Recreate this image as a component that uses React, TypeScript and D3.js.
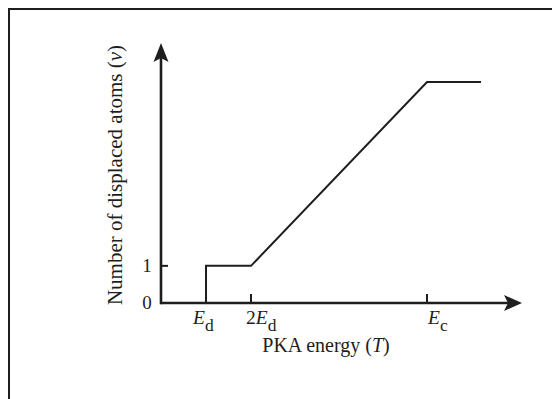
import React, { useEffect, useRef } from "react";
import * as d3 from "d3";

// energy in units of E_d, displacements in atoms
const curveT = [1, 1, 2, 5.91, 7.11];
const curveNu = [0, 1, 1, 5.95, 5.95];
const xTickValues = [1, 2, 5.91];
const xTickLabels = [
  { main: "E", pre: "", sub: "d" },
  { main: "E", pre: "2", sub: "d" },
  { main: "E", pre: "", sub: "c" },
];
const yTickValues = [0, 1];
const yTickLabels = ["0", "1"];

const App = () => {
  const svgRef = useRef<SVGSVGElement>(null);

  const width = 552;
  const height = 399;

  useEffect(() => {
    const svg = d3.select(svgRef.current);
    svg.selectAll("*").remove();

    const ink = "#1e1e1e";
    const font = "'Liberation Serif', 'Times New Roman', serif";

    // frame (only top and left edges fall inside the crop)
    svg
      .append("path")
      .attr("d", `M9,${height} L9,9 L${width},9`)
      .attr("fill", "none")
      .attr("stroke", ink)
      .attr("stroke-width", 2);

    const x = d3.scaleLinear().domain([0, 8.02]).range([161, 522]);
    const y = d3.scaleLinear().domain([0, 7]).range([303, 43]);

    const g = svg.append("g");

    // axes with arrows
    g.append("line")
      .attr("x1", x(0))
      .attr("y1", y(0))
      .attr("x2", x(8.02) - 8)
      .attr("y2", y(0))
      .attr("stroke", ink)
      .attr("stroke-width", 2.6);
    g.append("line")
      .attr("x1", x(0))
      .attr("y1", y(0) + 1.3)
      .attr("x2", x(0))
      .attr("y2", y(7) + 8)
      .attr("stroke", ink)
      .attr("stroke-width", 2.6);

    const tx = x(8.02);
    const ty = y(0);
    g.append("path")
      .attr(
        "d",
        `M${tx},${ty} L${tx - 18},${ty - 8} L${tx - 14},${ty} L${tx - 18},${ty + 8} Z`
      )
      .attr("fill", ink);
    const ax = x(0);
    const ay = y(7);
    g.append("path")
      .attr(
        "d",
        `M${ax},${ay} L${ax - 7.5},${ay + 19} L${ax},${ay + 15} L${ax + 7.5},${ay + 19} Z`
      )
      .attr("fill", ink);

    // x ticks (upward)
    g.selectAll(".xtick")
      .data(xTickValues.slice(1))
      .enter()
      .append("line")
      .attr("x1", (d) => x(d))
      .attr("x2", (d) => x(d))
      .attr("y1", y(0))
      .attr("y2", y(0) - 9)
      .attr("stroke", ink)
      .attr("stroke-width", 2);

    // y ticks (to the right)
    g.selectAll(".ytick")
      .data(yTickValues.slice(1))
      .enter()
      .append("line")
      .attr("x1", x(0))
      .attr("x2", x(0) + 7)
      .attr("y1", (d) => y(d))
      .attr("y2", (d) => y(d))
      .attr("stroke", ink)
      .attr("stroke-width", 2);

    // curve
    const line = d3
      .line<number>()
      .x((_, i) => x(curveT[i]))
      .y((d) => y(d))
      .curve(d3.curveLinear);
    g.append("path")
      .datum(curveNu)
      .attr("d", line)
      .attr("fill", "none")
      .attr("stroke", ink)
      .attr("stroke-width", 2)
      .attr("stroke-linejoin", "miter");

    // y tick labels
    g.selectAll(".ylab")
      .data(yTickValues)
      .enter()
      .append("text")
      .attr("x", 147)
      .attr("y", (d) => y(d) + 6)
      .attr("text-anchor", "middle")
      .attr("font-family", font)
      .attr("font-size", 19)
      .attr("fill", ink)
      .text((_, i) => yTickLabels[i]);

    // x tick labels
    const nudge = [-13, -5, 1];
    xTickValues.forEach((v, i) => {
      const lab = xTickLabels[i];
      const t = g
        .append("text")
        .attr("x", x(v) + nudge[i])
        .attr("y", 324)
        .attr("font-family", font)
        .attr("font-size", 19.5)
        .attr("fill", ink);
      if (lab.pre) t.append("tspan").text(lab.pre);
      t.append("tspan").attr("font-style", "italic").text(lab.main);
      t.append("tspan")
        .attr("dy", 7)
        .attr("font-size", 17.5)
        .text(lab.sub);
    });

    // axis titles
    const xt = g
      .append("text")
      .attr("x", 326)
      .attr("y", 352)
      .attr("text-anchor", "middle")
      .attr("font-family", font)
      .attr("font-size", 20)
      .attr("fill", ink);
    xt.append("tspan").text("PKA energy (");
    xt.append("tspan").attr("font-style", "italic").text("T");
    xt.append("tspan").text(")");

    const yt = g
      .append("text")
      .attr("transform", `translate(122,175) rotate(-90)`)
      .attr("text-anchor", "middle")
      .attr("font-family", font)
      .attr("font-size", 21)
      .attr("fill", ink);
    yt.append("tspan").text("Number of displaced atoms (");
    yt.append("tspan").attr("font-style", "italic").text("v");
    yt.append("tspan").text(")");
  }, []);

  return (
    <svg
      ref={svgRef}
      width={width}
      height={height}
      style={{ position: "absolute", left: 0, top: 0, background: "#fff" }}
    />
  );
};

export default App;
